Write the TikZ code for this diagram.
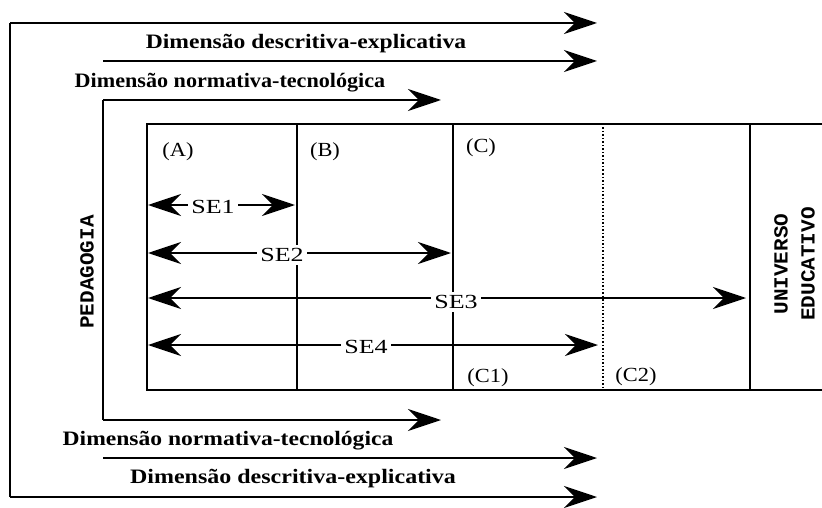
\documentclass[tikz,border=0pt]{standalone}
\usepackage{fontspec}
\setmainfont{Liberation Serif}
\newfontfamily\monofnt{Liberation Mono}
\usetikzlibrary{arrows.meta}
\tikzset{
  ln/.style={line width=2.3pt},
  tip/.style={-{Stealth[length=33pt,width=22pt,inset=11pt]}},
  dtip/.style={{Stealth[length=33pt,width=22pt,inset=11pt]}-{Stealth[length=33pt,width=22pt,inset=11pt]}},
  dimlab/.style={font=\fontsize{20.5}{22}\selectfont\bfseries, inner sep=1pt},
  cell/.style={font=\fontsize{20}{22}\selectfont, inner sep=1pt},
  selab/.style={font=\fontsize{20}{22}\selectfont, fill=white, inner sep=3pt},
  vlab/.style={font=\monofnt\fontsize{20}{22}\selectfont\bfseries, rotate=90, inner sep=0pt},
}
\newcommand{\wide}[2]{\scalebox{#1}[1]{#2}}
\begin{document}
\begin{tikzpicture}[x=1pt,y=-1pt]
\useasboundingbox (0,0) rectangle (822,508);
% outer arrow
\coordinate (o1) at (597,23);
\coordinate (o2) at (10,23);
\coordinate (o3) at (10,497);
\coordinate (o4) at (597,497);
\draw[ln,tip] (o2) -- (o1);
\draw[ln] (o2) -- (o3);
\draw[ln,tip] (o3) -- (o4);
% second lines
\coordinate (a1) at (103,61);
\coordinate (a2) at (597,61);
\draw[ln,tip] (a1) -- (a2);
\coordinate (b1) at (103,458);
\coordinate (b2) at (597,458);
\draw[ln,tip] (b1) -- (b2);
% inner arrow
\coordinate (i1) at (103,100);
\coordinate (i2) at (441,100);
\coordinate (i3) at (103,420);
\coordinate (i4) at (441,420);
\draw[ln,tip] (i1) -- (i2);
\draw[ln] (i1) -- (i3);
\draw[ln,tip] (i3) -- (i4);
% labels of dimensions
\node[dimlab] (d1) at (306,44) {\wide{1.15}{Dimensão descritiva-explicativa}};
\node[dimlab] (d2) at (230,83) {\wide{1.08}{Dimensão normativa-tecnológica}};
\node[dimlab] (d3) at (228,441) {\wide{1.15}{Dimensão normativa-tecnológica}};
\node[dimlab] (d4) at (293,479) {\wide{1.17}{Dimensão descritiva-explicativa}};
% rectangle
\coordinate (r1) at (147,124);
\coordinate (r2) at (822,124);
\coordinate (r3) at (147,390);
\coordinate (r4) at (822,390);
\draw[ln] (r2) -- (r1) -- (r3) -- (r4);
\draw[ln] (297,124) coordinate (vb1) -- (297,390) coordinate (vb2);
\draw[ln] (453,124) coordinate (vc1) -- (453,390) coordinate (vc2);
\draw[line width=1.5pt,dotted] (603,124) coordinate (vd1) -- (603,390) coordinate (vd2);
\draw[ln] (750,124) coordinate (ve1) -- (750,390) coordinate (ve2);
% cell labels
\node[cell] (A) at (178,152) {\wide{1.12}{(A)}};
\node[cell] (B) at (325,152) {\wide{1.12}{(B)}};
\node[cell] (C) at (481,148) {\wide{1.12}{(C)}};
\node[cell] (C1) at (488,378) {\wide{1.12}{(C1)}};
\node[cell] (C2) at (636,377) {\wide{1.12}{(C2)}};
% SE arrows
\coordinate (s1a) at (148,205); \coordinate (s1b) at (295,205);
\draw[ln,dtip] (s1a) -- (s1b);
\node[selab] (se1) at (213,207) {\wide{1.3}{SE1}};
\coordinate (s2a) at (148,253); \coordinate (s2b) at (451,253);
\draw[ln,dtip] (s2a) -- (s2b);
\node[selab] (se2) at (282,255) {\wide{1.3}{SE2}};
\coordinate (s3a) at (148,298); \coordinate (s3b) at (746,298);
\draw[ln,dtip] (s3a) -- (s3b);
\node[selab] (se3) at (456,302) {\wide{1.3}{SE3}};
\coordinate (s4a) at (148,345); \coordinate (s4b) at (598,345);
\draw[ln,dtip] (s4a) -- (s4b);
\node[selab] (se4) at (366,347) {\wide{1.3}{SE4}};
% vertical labels
\node[vlab] (ped) at (87,272) {\wide{1.05}{PEDAGOGIA}};
\node[vlab] (uni) at (781,264) {\wide{1.05}{UNIVERSO}};
\node[vlab] (edu) at (808,264) {\wide{1.05}{EDUCATIVO}};
\end{tikzpicture}
\end{document}
